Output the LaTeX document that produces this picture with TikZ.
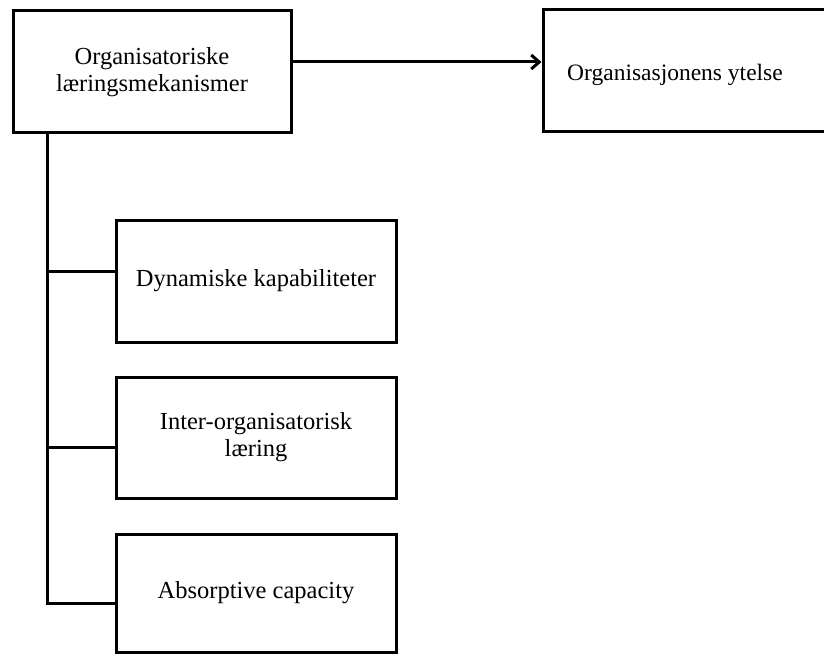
\documentclass[tikz,border=0pt]{standalone}
\usepackage{fontspec}
\setmainfont{Liberation Serif}
\usetikzlibrary{arrows.meta}
\begin{document}
\begin{tikzpicture}[x=1pt,y=-1pt,
  box/.style={draw=black, line width=3pt, fill=white, inner sep=0pt, align=center,
    font=\fontsize{24.5}{27}\selectfont},
  conn/.style={line width=3pt, line cap=rect}]
\useasboundingbox (0,0) rectangle (824,655);
\node[box, minimum width=278pt, minimum height=122pt] (org) at (152,72) {Organisatoriske\\læringsmekanismer};
\node[box, minimum width=320pt, minimum height=122pt] (perf) at (703,71) {};
\node[font=\fontsize{23.5}{27}\selectfont] (perft) at (675,75) {Organisasjonens ytelse};
\node[box, minimum width=280pt, minimum height=122pt] (dyn) at (256,281) {Dynamiske kapabiliteter};
\node[box, minimum width=280pt, minimum height=121pt] (inter) at (256,437.5) {Inter-organisatorisk\\læring};
\node[box, minimum width=280pt, minimum height=118pt] (abs) at (256,593) {Absorptive capacity};
\coordinate (top) at (47,132);
\coordinate (bot) at (47,603);
\draw[line width=3pt, -{Straight Barb[length=8pt,width=14pt,line width=3pt]}]
  ([yshift=10pt]org.east) -- ([yshift=10pt]org.east -| perf.west);
\draw[conn] (org.south -| top) -- (bot) -- (bot -| abs.west);
\draw[conn] ([yshift=10pt]dyn.west -| top) -- ([yshift=10pt]dyn.west);
\draw[conn] ([yshift=-10pt]inter.west -| top) -- ([yshift=-10pt]inter.west);
\end{tikzpicture}
\end{document}
